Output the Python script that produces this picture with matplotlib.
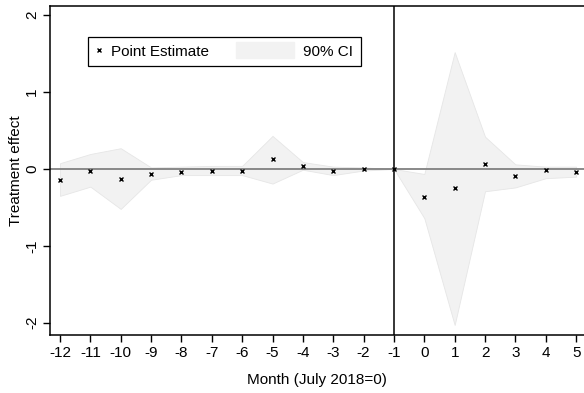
import matplotlib
matplotlib.use("Agg")
import matplotlib.pyplot as plt
from matplotlib.patches import Rectangle, Patch
from matplotlib.legend_handler import HandlerPatch
from matplotlib.lines import Line2D

# event-study estimates, months relative to July 2018
months = list(range(-12, 6))
point_est = [-0.14, -0.02, -0.13, -0.06, -0.035, -0.02, -0.03, 0.125, 0.04,
             -0.03, 0.0, 0.0, -0.36, -0.25, 0.065, -0.095, -0.015, -0.045]
ci_upper = [0.075, 0.195, 0.27, 0.02, 0.03, 0.04, 0.04, 0.43, 0.09,
            0.03, 0.02, 0.0, -0.065, 1.52, 0.42, 0.06, 0.03, 0.03]
ci_lower = [-0.35, -0.23, -0.52, -0.14, -0.08, -0.08, -0.08, -0.19, -0.01,
            -0.08, -0.02, 0.0, -0.64, -2.03, -0.29, -0.24, -0.12, -0.10]
y_ticks = [-2, -1, 0, 1, 2]

plt.rcParams['font.family'] = ['Liberation Sans', 'DejaVu Sans']


def wide_patch(legend, orig_handle, xdescent, ydescent, width, height, fontsize):
    # stretch the CI key to the left, like the Stata legend
    extra = 3.35 * fontsize
    return Rectangle((-xdescent - extra, -ydescent - 0.25 * height), width + extra, height * 1.5)


def main():
    fig = plt.figure(figsize=(5.84, 3.93), dpi=100)
    ax = fig.add_axes([0.0856, 0.1476, 0.9144, 0.8371])

    ax.fill_between(months, ci_lower, ci_upper, color='#f2f2f2',
                    edgecolor='#e6e6e6', linewidth=0.6, zorder=1)
    ax.axhline(0, color='#808080', lw=1.3, zorder=2)
    ax.axvline(-1, color='black', lw=1.1, zorder=2)
    ax.plot(months, point_est, ls='none', marker='x', ms=2.6, mew=1.0,
            color='black', zorder=3)

    ax.set_xlim(-12.33, 5.26)
    ax.set_ylim(-2.16, 2.12)
    ax.set_xticks(months)
    ax.set_xticklabels([str(m) for m in months], fontsize=11)
    ax.set_yticks(y_ticks)
    ax.set_yticklabels([str(v) for v in y_ticks], fontsize=11, rotation=90, va='center')
    ax.tick_params(direction='out', length=5, width=1, colors='black')
    ax.tick_params(axis='x', pad=3)
    ax.tick_params(axis='y', pad=3)

    ax.spines['right'].set_visible(False)
    for s in ['left', 'bottom', 'top']:
        ax.spines[s].set_linewidth(1.1)

    ax.set_xlabel('Month (July 2018=0)', fontsize=11, labelpad=9)
    ax.set_ylabel('Treatment effect', fontsize=11, labelpad=1)

    mk = Line2D([], [], ls='none', marker='x', ms=2.6, mew=1.0, color='black')
    ci_key = Patch(facecolor='#f2f2f2', edgecolor='#f2f2f2')
    leg = ax.legend([mk, ci_key], ['Point Estimate', '90% CI'], ncol=2,
                    loc='upper left', bbox_to_anchor=(0.071, 0.906),
                    borderaxespad=0, fontsize=11, fancybox=False,
                    edgecolor='black', framealpha=1, handlelength=0.4,
                    handletextpad=0.6, columnspacing=5.16, borderpad=0.5,
                    handler_map={Patch: HandlerPatch(patch_func=wide_patch)})
    leg.get_frame().set_linewidth(0.9)

    fig.savefig('out.png', dpi=100)


if __name__ == '__main__':
    main()
